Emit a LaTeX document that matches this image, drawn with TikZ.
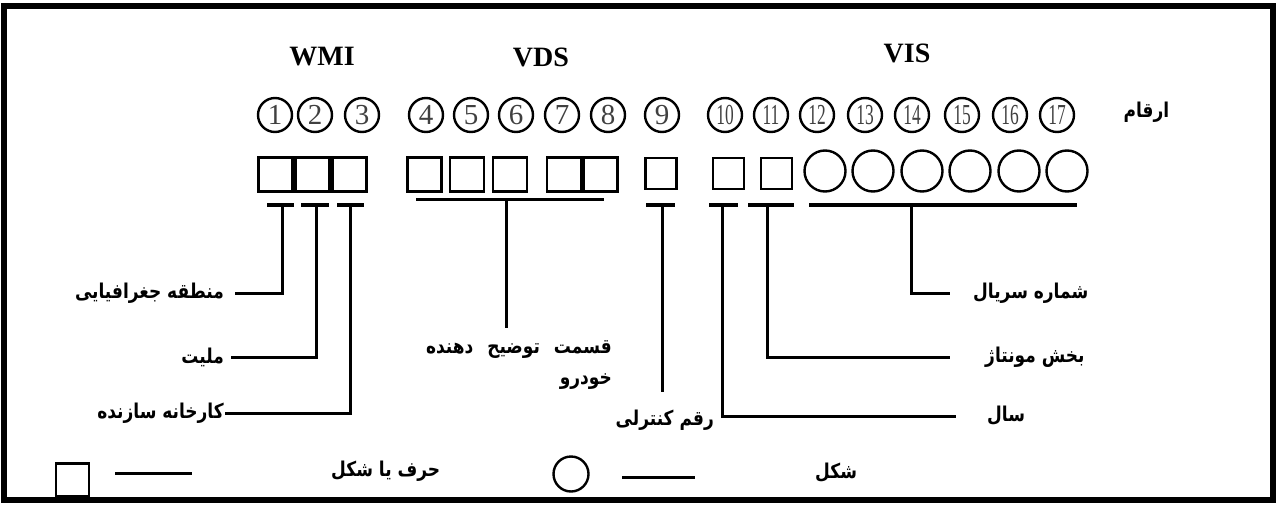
\documentclass[tikz,border=0pt]{standalone}
\usepackage{fontspec}
\usepackage{graphicx}
\setmainfont{Liberation Serif}
\newfontfamily\farsi[Script=Arabic]{DejaVu Sans}
\TeXXeTstate=1
\usetikzlibrary{positioning}

\newcommand{\fa}[1]{\scalebox{1}[1.2]{\farsi\bfseries\beginR #1\endR}}

\begin{document}
\begin{tikzpicture}[x=1pt, y=-1pt,
    box/.style={draw, line width=2.4pt, minimum size=34pt, inner sep=0pt},
    ring/.style={draw, circle, line width=2.4pt, minimum size=41pt, inner sep=0pt},
    digit/.style={draw, circle, line width=2.4pt, minimum size=34pt, inner sep=0pt,
        text=black!75, font=\fontsize{29}{29}\selectfont},
    bar/.style={line width=4pt},
    wire/.style={line width=3pt},
    lbl/.style={inner ysep=0pt, font=\fontsize{17}{31}\selectfont},
    group/.style={font=\fontsize{28}{28}\selectfont\bfseries}
]
    \useasboundingbox (0,0) rectangle (1277,506);
    \draw[line width=6pt] (4,6) rectangle (1273,500);

    % group names
    \node[group] (wmi) at (322,57) {WMI};
    \node[group] (vds) at (541,57) {VDS};
    \node[group] (vis) at (907,53) {VIS};

    % position numbers
    \foreach \i/\x in {1/275, 2/315, 3/362, 4/426, 5/471, 6/516, 7/562, 8/608,
        9/662, 10/725, 11/771, 12/817, 13/865, 14/912, 15/962, 16/1010, 17/1057}
        \node[digit] (n\i) at (\x,115) {\ifnum\i>9 \scalebox{0.6}[1]{\i}\else\i\fi};
    \node[lbl, anchor=west] (digits) at (1120,112) {\fa{ارقام}};

    % letters or digits
    \foreach \i/\x in {1/275.5, 2/312.5, 3/349.5, 4/424.5, 5/467, 6/510, 7/564, 8/600.5}
        \node[box] (sq\i) at (\x,174.5) {};
    \foreach \i/\x in {9/661, 10/728.5, 11/776.5}
        \node[box, minimum size=31pt] (sq\i) at (\x,173.5) {};
    % digits only
    \foreach \i/\x in {12/825, 13/873, 14/922, 15/970, 16/1019, 17/1067}
        \node[ring] (c\i) at (\x,171) {};

    % brackets under the characters
    \foreach \a/\b in {267/294, 301/329, 337/364, 646/675, 709/738, 748/794}
        \draw[bar] (\a,205) -- (\b,205);
    \draw[wire] (416,199) -- (604,199);
    \draw[bar] (809,205) -- (1077,205);

    \coordinate (t1) at (282,205);
    \coordinate (t2) at (316,205);
    \coordinate (t3) at (350,205);
    \coordinate (tV) at (506,199);
    \coordinate (t9) at (662,205);
    \coordinate (t10) at (722,205);
    \coordinate (t11) at (767,205);
    \coordinate (tS) at (911,205);

    % labels
    \node[lbl, anchor=east, inner xsep=11pt] (geo) at (235,293) {\fa{منطقه جغرافیایی}};
    \node[lbl, anchor=east, inner xsep=7pt] (nat) at (231,357) {\fa{ملیت}};
    \node[lbl, anchor=east, inner xsep=1pt] (fac) at (225,413) {\fa{کارخانه سازنده}};
    \node[lbl, anchor=north east, align=right, inner xsep=0pt] (desc) at (612,340)
        {\fa{قسمت\hspace{14pt}توضیح\hspace{14pt}دهنده}\\\fa{خودرو}};
    \node[lbl, anchor=east, inner xsep=0pt] (check) at (714,420) {\fa{رقم کنترلی}};
    \node[lbl, anchor=west, inner xsep=23pt] (serial) at (950,293) {\fa{شماره سریال}};
    \node[lbl, anchor=west, inner xsep=35pt] (mont) at (950,357) {\fa{بخش مونتاژ}};
    \node[lbl, anchor=west, inner xsep=31pt] (year) at (956,416) {\fa{سال}};

    \coordinate (vdsEnd) at (506,328);
    \coordinate (chkEnd) at (662,392);

    % connectors
    \draw[wire] (t1) |- (geo.east);
    \draw[wire] (t2) |- (nat.east);
    \draw[wire] (t3) |- (fac.east);
    \draw[wire] (tV) -- (vdsEnd);
    \draw[wire] (t9) -- (chkEnd);
    \draw[wire] (t10) |- (year.west);
    \draw[wire] (t11) |- (mont.west);
    \draw[wire] (tS) |- (serial.west);

    % key
    \node[box, minimum size=33pt] (keybox) at (72.5,480) {};
    \coordinate (keyA) at (115,473);
    \coordinate (keyB) at (192,473);
    \draw[wire] (keyA) -- (keyB);
    \node[lbl, anchor=west, inner xsep=0pt] (keyletter) at (331,471) {\fa{حرف یا شکل}};
    \node[ring, minimum size=35pt] (keyring) at (571,474) {};
    \coordinate (keyC) at (622,477);
    \coordinate (keyD) at (695,477);
    \draw[wire] (keyC) -- (keyD);
    \node[lbl, anchor=west, inner xsep=0pt] (keyshape) at (815,473) {\fa{شکل}};
\end{tikzpicture}
\end{document}
